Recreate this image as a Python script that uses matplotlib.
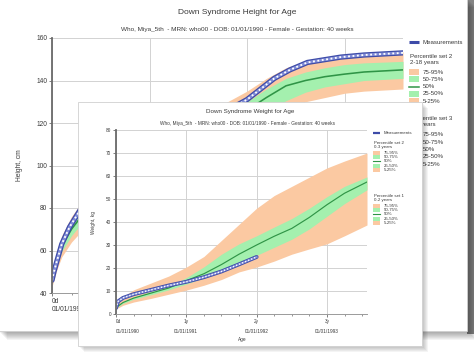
import matplotlib
matplotlib.use('Agg')
import matplotlib.pyplot as plt
from matplotlib.patches import Rectangle

plt.rcParams['font.family'] = ['Liberation Sans', 'DejaVu Sans']

W, H = 474, 353

# back window: Down syndrome height for age (years, cm)
h_age = [0, 0.25, 0.5, 1, 1.5, 2, 3, 4, 5, 6, 8, 10, 11, 12, 13, 14, 15, 16, 18]
h_p5 = [43, 51, 57, 64, 69, 74, 81, 87, 93, 98, 107, 116, 121, 126, 130, 132, 134, 135, 136]
h_p25 = [44.5, 53.5, 59.5, 67, 72.5, 77.5, 84.5, 91, 97, 102, 111.5, 120.5, 125.5, 130.5, 134.5, 137, 138.5, 140, 141]
h_p50 = [46, 56, 62, 70, 76, 81, 88, 95, 101, 106, 116, 126, 132, 137.5, 140, 141.8, 143, 144, 145]
h_p75 = [47.5, 58, 64.5, 73, 79, 84.5, 92, 99, 105, 110.5, 120.5, 130, 136, 141, 144, 146, 147.5, 148.3, 149]
h_p95 = [49, 60, 67, 76, 82.5, 88, 96, 103, 109, 115, 125, 135, 141, 146, 149, 151, 152, 152.5, 153.5]
h_meas_age = [0, 0.1, 0.25, 0.5, 0.9, 1.44, 2, 3, 5, 8, 10, 11.4, 12.2, 13.1, 14.8, 16, 18]
h_meas = [46, 50, 55, 63, 71, 79, 85, 93, 106, 121, 131, 141, 145, 148.5, 151, 152, 153]
h_ticks = [0, 5, 10, 15]
h_ticklabels = ['0d\n01/01/1990', '5y\n01/01/1995', '10y\n01/01/2000', '15y\n01/01/2005']

# front window: Down syndrome weight for age (years, kg)
w_age = [0, 0.1, 0.25, 0.5, 0.75, 1.0, 1.25, 1.5, 1.75, 2.0, 2.25, 2.5, 2.75, 3.0, 3.25, 3.57]
w_p5 = [2.2, 3.8, 5.2, 6.8, 8.6, 10.4, 12.5, 15.0, 18.3, 20.4, 23.0, 26.0, 28.3, 30.5, 34.0, 38.7]
w_p25 = [2.6, 4.6, 6.4, 8.4, 10.5, 13.0, 15.8, 19.0, 22.2, 25.5, 29.0, 32.5, 37.0, 42.5, 48.0, 54.0]
w_p50 = [2.8, 5.0, 6.9, 9.1, 11.3, 14.5, 17.5, 21.5, 26.0, 30.0, 33.8, 37.2, 42.0, 47.5, 52.5, 57.4]
w_p75 = [3.0, 5.4, 7.4, 9.8, 12.0, 15.8, 20.5, 26.0, 30.5, 34.0, 37.8, 41.5, 46.0, 51.0, 55.5, 59.6]
w_p95 = [3.5, 7.5, 10.5, 13.5, 16.5, 20.4, 25.0, 32.0, 39.0, 46.0, 51.5, 55.5, 59.5, 63.5, 66.5, 70.0]
w_meas_age = [0, 0.03, 0.1, 0.25, 0.5, 0.75, 1.0, 1.25, 1.5, 1.75, 2.0]
w_meas = [2.6, 5.5, 7.0, 8.6, 10.5, 12.4, 14.0, 16.0, 18.5, 21.6, 24.8]
w_ticks = [0, 1, 2, 3]
w_ticklabels = ['0d\n01/01/1990', '1y\n01/01/1991', '2y\n01/01/1992', '3y\n01/01/1993']

pct_labels = ['75-95%', '50-75%', '50%', '25-50%', '5-25%']
pct_kinds = ['orange', 'green', 'line', 'green', 'orange']

orange = '#fbc9a2'
green = '#a4f0ae'
median_c = '#2f9446'
blue = '#3d4ba8'
text_c = '#3a3a3a'


def frac(x0, y0, x1, y1):
    return [x0 / W, 1 - y1 / H, (x1 - x0) / W, (y1 - y0) / H]


def canvas():
    ax = fig.add_axes([0, 0, 1, 1])
    ax.set_xlim(0, W)
    ax.set_ylim(H, 0)
    ax.axis('off')
    ax.patch.set_alpha(0)
    return ax


def window(ax, x0, y0, x1, y1, shadow=6):
    for k in range(shadow, 0, -1):
        ax.add_patch(Rectangle((x0 + k, y0 + k), x1 - x0, y1 - y0, color='black', alpha=0.045, lw=0))
    ax.add_patch(Rectangle((x0, y0), x1 - x0, y1 - y0, facecolor='white', edgecolor='#d0d0d0', lw=0.6))


def legend(ax, x, y_meas, y_sets, set_names, pw, ph, fs, lw):
    ax.plot([x, x + pw], [y_meas, y_meas], color=blue, lw=lw, solid_capstyle='butt')
    ax.text(x + pw + 4, y_meas, 'Measurements', fontsize=fs, va='center', color=text_c)
    for (y0, step), (name, rng) in zip(y_sets, set_names):
        ax.text(x + 1, y0, name, fontsize=fs, va='center', color=text_c)
        ax.text(x + 1, y0 + step * 0.9, rng, fontsize=fs, va='center', color=text_c)
        for i, (lab, kind) in enumerate(zip(pct_labels, pct_kinds)):
            yy = y0 + step * (2.2 + i)
            if kind == 'line':
                ax.plot([x, x + pw], [yy, yy], color=median_c, lw=lw * 0.5)
            else:
                ax.add_patch(Rectangle((x, yy - ph / 2), pw, ph, color=orange if kind == 'orange' else green, lw=0))
            ax.text(x + pw + 4, yy, lab, fontsize=fs, va='center', color=text_c)


def chart(ax, age, p5, p25, p50, p75, p95, m_age, m_val, mlw, fs):
    ax.patch.set_alpha(0)
    ax.fill_between(age, p5, p95, color=orange, lw=0)
    ax.fill_between(age, p25, p75, color=green, lw=0)
    ax.plot(age, p50, color=median_c, lw=mlw * 0.3)
    ax.plot(m_age, m_val, color=blue, lw=mlw, solid_capstyle='round')
    ax.plot(m_age, m_val, color='#7f8bd6', lw=mlw * 0.55)
    ax.plot(m_age, m_val, color='white', lw=mlw * 0.35, ls=(0, (1, 1.4)))
    for s in ['top', 'right']:
        ax.spines[s].set_visible(False)
    ax.spines['left'].set_color('#6a6a6a')
    ax.spines['left'].set_linewidth(1.3)
    ax.spines['bottom'].set_color('#9a9a9a')
    ax.spines['bottom'].set_linewidth(0.7)
    ax.grid(True, color='#d2d2d2', lw=0.7)
    ax.set_axisbelow(True)
    ax.tick_params(labelsize=fs, colors='#6a6a6a', labelcolor=text_c, length=2, width=0.6, pad=1.5)
    ax.tick_params(which='minor', length=1.5, width=0.5, colors='#6a6a6a')


fig = plt.figure(figsize=(W / 100, H / 100), dpi=100)
fig.patch.set_facecolor('white')

# ---- back window ----
bg = canvas()
bg.add_patch(Rectangle((467, -2), 8, 336, color='#858585', lw=0))
window(bg, -2, -2, 467, 331, shadow=9)
bg.text(237, 12, 'Down Syndrome Height for Age', fontsize=6.0, ha='center', va='center', color=text_c)
bg.text(237, 29, 'Who, Miya_5th  - MRN: who00 - DOB: 01/01/1990 - Female - Gestation: 40 weeks',
        fontsize=4.6, ha='center', va='center', color=text_c)
legend(bg, 409, 42, [(56, 7.3), (118, 7.5)], [('Percentile set 2', '2-18 years'), ('Percentile set 3', '0-3 years')],
       10, 6, 4.4, 2.2)

hax = fig.add_axes(frac(52, 38, 403, 293))
chart(hax, h_age, h_p5, h_p25, h_p50, h_p75, h_p95, h_meas_age, h_meas, 3.8, 4.8)
hax.set_xlim(0, 18)
hax.set_ylim(40, 160)
hax.set_yticks(range(40, 161, 20))
hax.set_xticks(h_ticks)
hax.set_xticklabels(h_ticklabels)
hax.set_xticks(range(0, 19), minor=True)
hax.get_xticklabels()[0].set_ha('left')
hax.set_ylabel('Height, cm', fontsize=4.8, color=text_c)
hax.yaxis.set_label_coords(-0.083, 0.5)
hax.set_xlabel('Age', fontsize=4.8, color=text_c)

# ---- front window ----
fg = canvas()
window(fg, 78, 102, 422, 346, shadow=6)
fg.text(250, 111, 'Down Syndrome Weight for Age', fontsize=4.5, ha='center', va='center', color=text_c)
fg.text(248, 124, 'Who, Miya_5th  - MRN: who00 - DOB: 01/01/1990 - Female - Gestation: 40 weeks',
        fontsize=3.4, ha='center', va='center', color=text_c)
legend(fg, 373, 133, [(143, 4.4), (196, 4.4)], [('Percentile set 2', '0-3 years'), ('Percentile set 1', '0-2 years')],
       7, 4, 3.2, 1.6)

wax = fig.add_axes(frac(116, 130, 367, 314))
chart(wax, w_age, w_p5, w_p25, w_p50, w_p75, w_p95, w_meas_age, w_meas, 2.8, 3.4)
wax.set_xlim(0, 3.57)
wax.set_ylim(0, 80)
wax.set_yticks(range(0, 81, 10))
wax.set_xticks(w_ticks)
wax.set_xticklabels(w_ticklabels, linespacing=2.4)
wax.set_xticks([0.25, 0.5, 0.75, 1.25, 1.5, 1.75, 2.25, 2.5, 2.75, 3.25, 3.5], minor=True)
wax.get_xticklabels()[0].set_ha('left')
wax.set_ylabel('Weight, kg', fontsize=3.4, color=text_c)
wax.yaxis.set_label_coords(-0.08, 0.5)
wax.set_xlabel('Age', fontsize=3.4, color=text_c)
wax.xaxis.set_label_coords(0.502, -0.125)

fig.savefig('out.png', dpi=100)
